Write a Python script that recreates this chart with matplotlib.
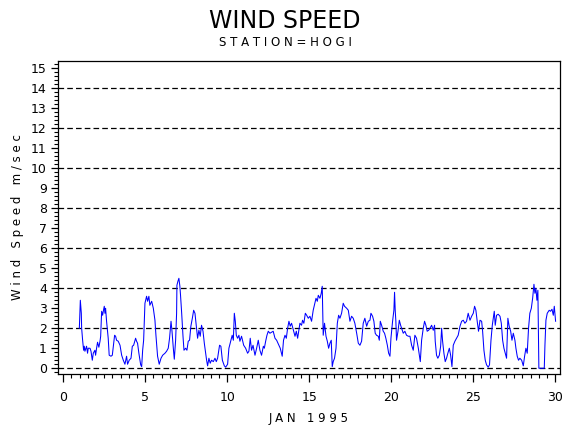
import numpy as np
import matplotlib
matplotlib.use("Agg")
import matplotlib.pyplot as plt
from matplotlib.ticker import MultipleLocator

## observation times (day of January 1995) and wind speed (m/sec)
days = [0.98, 1.04, 1.10, 1.12, 1.18, 1.24, 1.28, 1.32, 1.42, 1.48, 1.52, 1.63, 1.69, 1.77, 1.83,
        1.93, 1.97, 2.03, 2.09, 2.17, 2.24, 2.28, 2.34, 2.40, 2.44, 2.50, 2.54, 2.58, 2.64, 2.74,
        2.80, 2.91, 2.99, 3.07, 3.13, 3.19, 3.25, 3.35, 3.46, 3.56, 3.66, 3.76, 3.86, 3.92, 4.02,
        4.13, 4.21, 4.29, 4.41, 4.47, 4.53, 4.61, 4.72, 4.78, 4.84, 4.90, 4.98, 5.08, 5.14, 5.22,
        5.28, 5.39, 5.49, 5.59, 5.65, 5.75, 5.85, 5.96, 6.06, 6.20, 6.30, 6.40, 6.48, 6.57, 6.63,
        6.71, 6.77, 6.85, 6.91, 6.93, 6.99, 7.05, 7.11, 7.15, 7.22, 7.30, 7.36, 7.46, 7.54, 7.62,
        7.70, 7.78, 7.87, 7.95, 8.03, 8.11, 8.19, 8.27, 8.35, 8.43, 8.52, 8.60, 8.74, 8.80, 8.88,
        8.96, 9.04, 9.15, 9.25, 9.33, 9.41, 9.53, 9.61, 9.70, 9.82, 9.90, 10.02, 10.10, 10.22, 10.30,
        10.37, 10.43, 10.49, 10.55, 10.63, 10.71, 10.77, 10.87, 11.00, 11.12, 11.24, 11.32, 11.40, 11.48, 11.57,
        11.69, 11.79, 11.89, 11.99, 12.09, 12.20, 12.26, 12.34, 12.42, 12.50, 12.60, 12.70, 12.80, 12.91, 13.01,
        13.15, 13.23, 13.35, 13.43, 13.52, 13.60, 13.68, 13.76, 13.84, 13.92, 14.00, 14.13, 14.21, 14.29,
        14.43, 14.53, 14.59, 14.67, 14.76, 14.84, 14.94, 15.04, 15.14, 15.24, 15.34, 15.41, 15.49, 15.55, 15.65,
        15.73, 15.79, 15.85, 15.93, 16.02, 16.10, 16.18, 16.26, 16.34, 16.40, 16.46, 16.54, 16.63, 16.71, 16.79,
        16.87, 16.97, 17.07, 17.15, 17.28, 17.38, 17.48, 17.58, 17.68, 17.78, 17.89, 17.99, 18.09, 18.19, 18.29,
        18.39, 18.50, 18.60, 18.70, 18.76, 18.86, 18.94, 19.02, 19.10, 19.21, 19.27, 19.33, 19.41, 19.51, 19.59,
        19.67, 19.76, 19.84, 19.92, 19.98, 20.08, 20.16, 20.20, 20.24, 20.28, 20.32, 20.41, 20.49, 20.57, 20.63,
        20.73, 20.83, 20.93, 21.04, 21.14, 21.24, 21.34, 21.44, 21.54, 21.65, 21.71, 21.77, 21.85, 21.95, 22.03,
        22.11, 22.19, 22.28, 22.36, 22.46, 22.56, 22.64, 22.68, 22.76, 22.84, 22.93, 23.01, 23.07, 23.13, 23.21,
        23.29, 23.37, 23.45, 23.54, 23.62, 23.70, 23.78, 23.88, 23.98, 24.08, 24.19, 24.29, 24.39, 24.49, 24.59,
        24.69, 24.80, 24.90, 25.00, 25.08, 25.16, 25.24, 25.32, 25.41, 25.51, 25.57, 25.65, 25.73, 25.81, 25.91,
        25.99, 26.08, 26.16, 26.22, 26.28, 26.34, 26.42, 26.52, 26.63, 26.71, 26.79, 26.87, 26.95, 27.03, 27.11,
        27.19, 27.28, 27.36, 27.44, 27.54, 27.60, 27.68, 27.76, 27.84, 27.95, 28.05, 28.13, 28.21, 28.29, 28.37,
        28.45, 28.54, 28.62, 28.70, 28.76, 28.82, 28.88, 28.94, 29.00, 29.33, 29.37, 29.43, 29.51, 29.63, 29.71,
        29.80, 29.88, 29.94, 30.02]

speed = [2.0, 3.4, 2.75, 2.0, 1.4, 0.9, 1.1, 0.85, 1.1, 0.75, 1.0, 1.0, 0.85, 0.4, 0.75,
         0.9, 0.65, 1.0, 1.3, 1.05, 1.35, 1.6, 2.85, 2.65, 2.85, 3.1, 2.75, 3.0, 2.35, 1.5,
         0.65, 0.6, 0.65, 1.25, 1.65, 1.6, 1.4, 1.35, 1.15, 0.65, 0.4, 0.2, 0.6, 0.2, 0.4,
         0.5, 1.1, 1.15, 1.5, 1.35, 1.25, 0.75, 0.17, 0.08, 0.9, 1.4, 3.25, 3.6, 3.35, 3.6,
         3.15, 3.35, 3.0, 2.4, 1.65, 0.6, 0.2, 0.5, 0.65, 0.75, 0.85, 1.0, 1.5, 2.35, 1.85,
         1.0, 0.45, 1.4, 2.75, 4.15, 4.35, 4.5, 4.1, 3.65, 2.75, 1.6, 0.9, 1.0, 0.9, 1.35,
         1.4, 2.1, 2.5, 2.9, 2.75, 2.1, 1.5, 1.9, 1.6, 2.15, 1.85, 1.25, 0.4, 0.12, 0.5,
         0.25, 0.4, 0.33, 0.5, 0.33, 0.5, 1.15, 1.1, 0.4, 0.12, 0.05, 0.2, 1.0, 1.4, 1.65,
         1.4, 2.75, 2.35, 1.65, 1.5, 1.65, 1.35, 1.6, 1.15, 1.0, 0.75, 0.85, 1.5, 0.9, 1.15,
         0.65, 1.0, 1.4, 0.9, 0.65, 1.1, 1.0, 1.35, 1.65, 1.85, 1.75, 1.8, 1.85, 1.5, 1.4,
         1.15, 1.0, 0.6, 1.4, 1.65, 1.5, 2.0, 2.35, 2.1, 2.25, 2.0, 1.6, 1.85, 1.5,
         2.25, 2.15, 2.4, 2.25, 2.75, 2.65, 2.5, 2.6, 2.35, 2.9, 3.25, 3.5, 3.35, 3.65, 3.5,
         3.75, 4.1, 1.65, 2.25, 1.6, 1.35, 1.0, 1.25, 1.4, 0.08, 0.33, 0.5, 1.0, 2.25, 2.65,
         2.5, 2.75, 3.25, 3.1, 3.0, 2.9, 2.35, 2.6, 2.5, 2.25, 1.75, 1.25, 1.15, 1.35, 2.25,
         2.5, 2.1, 2.35, 2.4, 2.75, 2.6, 2.35, 1.75, 1.65, 1.6, 1.4, 2.35, 2.15, 1.85, 1.75,
         1.5, 1.15, 0.75, 0.6, 1.5, 2.35, 2.9, 3.8, 2.9, 2.35, 1.4, 1.85, 2.4, 2.15, 2.0,
         1.75, 1.85, 1.65, 1.6, 1.6, 1.15, 0.9, 1.65, 1.5, 1.0, 0.65, 0.33, 1.4, 2.0, 2.35,
         2.15, 1.85, 1.9, 2.0, 2.15, 1.9, 2.15, 1.35, 0.65, 0.5, 0.65, 1.1, 2.0, 1.35, 0.75,
         0.33, 0.5, 0.75, 1.0, 0.65, 0.08, 1.15, 1.35, 1.5, 1.65, 2.1, 2.35, 2.4, 2.25, 2.35,
         2.75, 2.4, 2.6, 2.75, 3.1, 2.9, 2.35, 1.85, 2.4, 2.35, 1.85, 0.9, 0.4, 0.17, 0.05,
         0.17, 1.4, 2.15, 2.5, 2.85, 2.15, 2.65, 2.7, 2.6, 2.25, 1.4, 1.0, 0.75, 0.5, 2.5,
         2.1, 1.85, 1.4, 1.75, 1.4, 1.0, 0.6, 0.4, 0.5, 0.4, 0.12, 0.6, 1.0, 0.75, 2.0,
         2.75, 3.0, 3.5, 4.2, 3.75, 4.0, 3.4, 3.9, 0.0, 0.0, 1.15, 2.4, 2.75, 2.9, 2.85,
         2.95, 2.65, 3.1, 2.35]

ref_levels = [0, 2, 4, 6, 8, 10, 12, 14]

fig = plt.figure(figsize=(5.7, 4.3), dpi=100)
ax = fig.add_axes([0.1018, 0.1302, 0.8807, 0.7278])

for lev in ref_levels:
    ax.axhline(lev, color="black", lw=0.9, dashes=(4.5, 2.5), zorder=1)

ax.plot(days, speed, color="#0000ff", lw=0.75, zorder=2)

ax.set_xlim(-0.32, 30.29)
ax.set_ylim(-0.29, 15.37)
ax.xaxis.set_major_locator(MultipleLocator(5))
ax.xaxis.set_minor_locator(MultipleLocator(0.5))
ax.yaxis.set_major_locator(MultipleLocator(1))
ax.yaxis.set_minor_locator(MultipleLocator(0.2))
ax.tick_params(which="major", direction="out", length=5, width=0.9, labelsize=9, pad=3)
ax.tick_params(which="minor", direction="out", length=3, width=0.8)
ax.tick_params(axis="x", which="major", length=6, pad=6)
for s in ax.spines.values():
    s.set_linewidth(0.9)

ax.set_xlabel("J A N   1 9 9 5", fontsize=8.5, labelpad=6)
ax.set_ylabel("W i n d   S p e e d   m / s e c", fontsize=8.5, labelpad=5)

fig.text(0.5, 0.951, "WIND SPEED", ha="center", va="center", fontsize=17)
fig.text(0.5, 0.902, "S T A T I O N = H O G I", ha="center", va="center", fontsize=8.5)

fig.savefig("out.png", dpi=100)
